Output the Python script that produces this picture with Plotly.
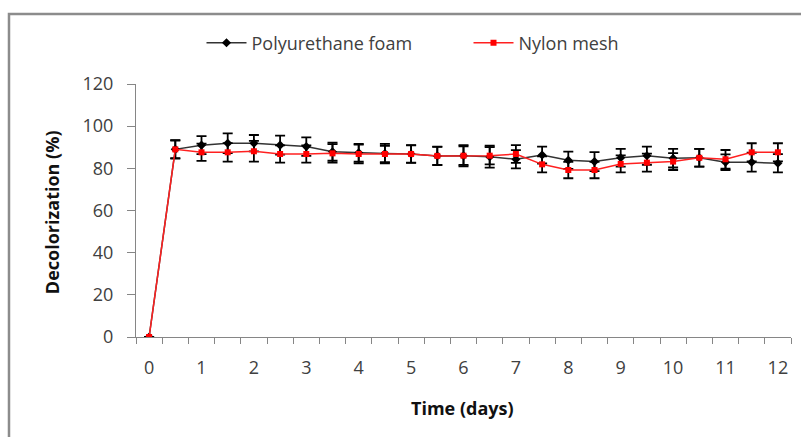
import plotly.graph_objects as go

days = [0, 0.5, 1, 1.5, 2, 2.5, 3, 3.5, 4, 4.5, 5, 5.5, 6, 6.5, 7, 7.5, 8, 8.5, 9, 9.5, 10, 10.5, 11, 11.5, 12]
pu_foam = [0, 89, 91, 91.9, 91.9, 91, 90.3, 87.9, 87.4, 87, 86.8, 85.9, 86, 85.5, 84.3, 86.3, 83.8, 83.2, 85, 86, 84.8, 85, 82.9, 82.9, 82.4]
pu_err = [None, 4.4, 4.3, 4.7, 3.9, 4.5, 4.4, 4.3, 4.2, 4.6, 4.2, 4.4, 5.0, 5.2, 4.3, 4.0, 4.1, 4.5, 4.2, 4.3, 4.4, 4.2, 3.7, 4.5, 4.3]
nylon_mesh = [0, 89, 87.6, 87.6, 88.1, 86.8, 86.8, 87.1, 86.8, 86.8, 86.8, 85.9, 86, 86, 86.8, 81.9, 79.2, 79.2, 82.1, 82.7, 83.2, 85, 84.3, 87.6, 87.6]
nylon_err = [None, 4.2, 4.1, 4.4, 4.9, 4.1, 4.1, 4.4, 4.4, 3.9, 4.1, 4.3, 4.4, 4.1, 4.2, 3.8, 3.9, 3.9, 4.0, 4.3, 4.0, 4.2, 4.4, 4.3, 4.3]
x_ticks = list(range(0, 13))
y_ticks = [0, 20, 40, 60, 80, 100, 120]

FONT = "Open Sans"
TXT = "#404040"
AX = "#868686"

fig = go.Figure()
fig.add_trace(go.Scatter(
    x=days, y=pu_foam, name="Polyurethane foam", mode="lines+markers",
    line=dict(color="#333333", width=1.5),
    marker=dict(symbol="diamond", size=7, color="#000000"),
    error_y=dict(type="data", array=pu_err, visible=True, color="#000000", thickness=1.8, width=5),
))
fig.add_trace(go.Scatter(
    x=days, y=nylon_mesh, name="Nylon mesh", mode="lines+markers",
    line=dict(color="#ff2020", width=1.5),
    marker=dict(symbol="square", size=6, color="#ff0000"),
    error_y=dict(type="data", array=nylon_err, visible=True, color="#000000", thickness=1.8, width=5),
))

minor_vals = [-0.25 + 0.5 * i for i in range(26)]

fig.update_layout(
    width=801, height=437,
    margin=dict(l=136, r=10, t=84, b=100),
    paper_bgcolor="white", plot_bgcolor="white",
    font=dict(family=FONT, size=18, color=TXT),
    showlegend=True,
    legend=dict(orientation="h", x=0.1, y=1.162, xanchor="left", yanchor="middle",
                font=dict(family=FONT, size=18, color=TXT), itemwidth=40,
                entrywidth=212, bgcolor="rgba(0,0,0,0)"),
    xaxis=dict(range=[-0.25, 12.25], tickmode="array", tickvals=x_ticks,
               ticktext=[str(v) for v in x_ticks], ticks="", showgrid=False, zeroline=False,
               showline=True, linecolor=AX, linewidth=1.2, ticklabelstandoff=14,
               tickfont=dict(family=FONT, size=18, color=TXT),
               minor=dict(tickmode="array", tickvals=minor_vals, ticks="outside",
                          ticklen=6, tickcolor=AX, showgrid=False)),
    yaxis=dict(range=[0, 120], tickmode="array", tickvals=y_ticks, ticks="outside",
               ticklen=8, tickcolor=AX, showgrid=False, zeroline=False,
               showline=True, linecolor=AX, linewidth=1.2, ticklabelstandoff=10,
               tickfont=dict(family=FONT, size=18, color=TXT)),
    annotations=[
        dict(text="<b>Time (days)</b>", xref="paper", yref="paper", x=0.498, y=-0.2806,
             showarrow=False, xanchor="center", yanchor="middle",
             font=dict(family=FONT, size=18, color="#111111")),
        dict(text="<b>Decolorization (%)</b>", xref="paper", yref="paper", x=-0.128, y=0.494,
             showarrow=False, xanchor="center", yanchor="middle", textangle=-90,
             font=dict(family=FONT, size=18, color="#111111")),
    ],
    shapes=[
        dict(type="rect", xref="paper", yref="paper", x0=-0.1939, x1=1.2, y0=-0.6, y1=1.2767,
             line=dict(color="#8c8c8c", width=2.5), layer="below"),
    ],
)

fig.write_html("out.html")
